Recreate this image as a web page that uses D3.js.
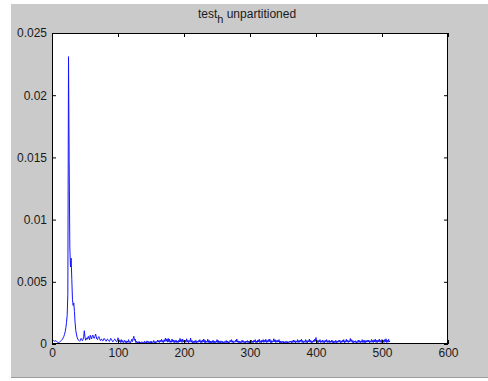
<!DOCTYPE html>
<html>
<head>
<meta charset="utf-8">
<script src="https://cdn.jsdelivr.net/npm/d3@7"></script>
<style>
  html, body { margin: 0; padding: 0; background: #ffffff; }
  svg { display: block; }
  text { font-family: "Liberation Sans", Arial, sans-serif; fill: #1a1a1a; }
</style>
</head>
<body>
<svg id="chart" width="488" height="381"></svg>
<script>
// ---- data ----
const titleMain = "test";
const titleSub = "h";
const titleRest = " unpartitioned";
const xTicks = [0, 100, 200, 300, 400, 500, 600];
const yTicks = [0, 0.005, 0.01, 0.015, 0.02, 0.025];
const yTickLabels = ["0", "0.005", "0.01", "0.015", "0.02", "0.025"];
const xDomain = [0, 600];
const yDomain = [0, 0.025];
const valueUnit = 1e-5; // values below are in units of 1e-5
// magnitude at sample index 1..512
const magnitudeE5 = [
  30,28,25,22,24,27,20,16,13,11,14,18,22,27,33,40,50,62,78,100,
  130,175,230,400,2310,1470,780,620,690,520,360,310,330,260,170,110,80,55,40,32,
  28,22,30,45,38,26,35,60,107,55,30,42,50,38,62,48,35,70,55,40,
  66,72,50,45,58,80,62,40,35,52,60,45,30,28,40,35,25,30,45,38,
  28,22,35,40,30,25,20,32,45,38,28,18,25,30,40,35,22,18,28,50,
  42,18,30,12,35,15,28,10,22,30,12,25,8,24,14,35,12,20,10,25,
  38,20,45,62,30,40,12,22,8,18,10,20,6,16,10,18,8,14,6,22,
  10,18,8,25,12,20,6,18,10,24,8,16,12,28,10,22,8,18,14,32,
  15,28,12,30,18,38,14,28,12,35,20,48,22,40,15,45,18,38,12,26,
  14,40,18,32,10,28,14,32,12,24,10,30,16,45,18,35,12,40,16,28,
  12,30,14,42,16,30,10,28,18,48,14,30,10,22,8,25,12,30,10,22,
  12,28,16,35,12,26,10,32,16,40,12,30,10,22,14,38,12,30,10,24,
  8,22,12,30,10,24,8,20,14,35,12,28,8,22,10,25,12,22,8,18,
  10,22,12,28,10,24,8,18,12,30,16,35,12,26,10,20,14,30,16,40,
  14,25,10,22,8,20,12,30,14,26,10,20,8,24,14,28,10,22,8,25,
  14,30,10,24,12,30,16,35,10,24,12,32,16,38,12,26,10,30,16,35,
  12,30,16,38,12,28,14,35,18,40,12,28,10,25,16,42,18,35,12,28,
  14,30,16,35,10,24,8,20,12,24,8,18,6,20,10,22,8,18,10,22,
  14,24,10,26,12,32,14,28,10,24,14,35,12,28,14,32,18,38,12,28,
  10,22,14,35,12,28,10,28,16,40,14,30,10,24,12,30,16,38,22,52,
  14,28,10,28,16,35,12,25,14,32,12,26,10,30,16,35,12,26,14,30,
  10,24,14,32,12,25,8,22,12,30,10,24,12,28,16,32,10,24,12,30,
  16,35,10,26,14,38,16,30,12,26,16,44,20,35,12,28,10,24,14,26,
  8,20,12,32,14,28,10,24,14,35,12,28,10,30,12,28,14,30,16,32,
  10,24,14,36,14,30,12,34,16,38,12,30,12,32,18,40,14,28,12,36,
  14,30,12,35,18,42,12,30,14,38,16,25
];

// ---- layout ----
const svg = d3.select("#chart");
const W = 488, H = 381;
const plot = { left: 52, top: 33, right: 448, bottom: 344 };

// figure background
svg.append("rect").attr("x", 0).attr("y", 0).attr("width", W).attr("height", H).attr("fill", "#ffffff");
svg.append("rect").attr("x", 11).attr("y", 4).attr("width", W - 11).attr("height", 373)
  .attr("fill", "#cacaca");
svg.append("line").attr("x1", 11).attr("x2", W).attr("y1", 377.5).attr("y2", 377.5)
  .attr("stroke", "#9a9a9a").attr("stroke-width", 1);

const x = d3.scaleLinear().domain(xDomain).range([plot.left, plot.right]);
const y = d3.scaleLinear().domain(yDomain).range([plot.bottom, plot.top]);

// axes background
svg.append("rect").attr("x", plot.left).attr("y", plot.top)
  .attr("width", plot.right - plot.left).attr("height", plot.bottom - plot.top)
  .attr("fill", "#ffffff");

// line
const data = magnitudeE5.map((v, i) => ({ x: i + 1, y: v * valueUnit }));
const line = d3.line().x(d => x(d.x)).y(d => y(d.y));
svg.append("path").datum(data)
  .attr("fill", "none").attr("stroke", "#1414ff").attr("stroke-width", 1)
  .attr("stroke-linejoin", "round")
  .attr("d", line);

// axes (MATLAB style: inward ticks, box)
const fs = "12px";
const gB = svg.append("g").attr("transform", `translate(0,${plot.bottom})`)
  .call(d3.axisBottom(x).tickValues(xTicks).tickSize(-4).tickPadding(4).tickFormat(d3.format("d")));
const gT = svg.append("g").attr("transform", `translate(0,${plot.top})`)
  .call(d3.axisTop(x).tickValues(xTicks).tickSize(-4).tickFormat(""));
const gL = svg.append("g").attr("transform", `translate(${plot.left},0)`)
  .call(d3.axisLeft(y).tickValues(yTicks).tickSize(-4).tickPadding(5).tickFormat((d, i) => yTickLabels[i]));
const gR = svg.append("g").attr("transform", `translate(${plot.right},0)`)
  .call(d3.axisRight(y).tickValues(yTicks).tickSize(-4).tickFormat(""));

[gB, gT, gL, gR].forEach(g => {
  g.select(".domain").remove();
  g.selectAll(".tick line").attr("stroke", "#000").attr("stroke-width", 1);
  g.selectAll(".tick text").style("font-family", '"Liberation Sans", Arial, sans-serif')
    .style("font-size", fs).attr("fill", "#1a1a1a");
});

// box
svg.append("rect").attr("x", plot.left + 0.5).attr("y", plot.top + 0.5)
  .attr("width", plot.right - plot.left - 1).attr("height", plot.bottom - plot.top - 1)
  .attr("fill", "none").attr("stroke", "#000").attr("stroke-width", 1);

// title
const t = svg.append("text").attr("x", (plot.left + plot.right) / 2 - 3).attr("y", 18)
  .attr("text-anchor", "middle").style("font-size", "12px");
t.append("tspan").text(titleMain);
t.append("tspan").attr("dy", 5).style("font-size", "11px").text(titleSub);
t.append("tspan").attr("dy", -5).text(titleRest);
</script>
</body>
</html>
